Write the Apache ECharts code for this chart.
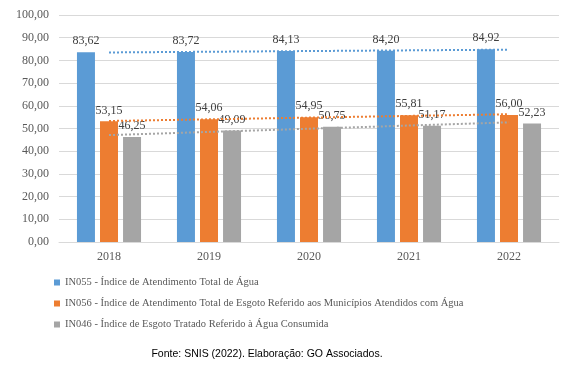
<!DOCTYPE html>
<html>
<head>
<meta charset="utf-8">
<script src="https://cdn.jsdelivr.net/npm/echarts@6/dist/echarts.min.js"></script>
<style>
  html, body { margin: 0; padding: 0; background: #fff; }
  #chart { width: 579px; height: 377px; }
</style>
</head>
<body>
<div id="chart"></div>
<script>
// anos
var anos = ['2018', '2019', '2020', '2021', '2022'];
var nomes = [
  'IN055 - Índice de Atendimento Total de Água',
  'IN056 - Índice de Atendimento Total de Esgoto Referido aos Municípios Atendidos com Água',
  'IN046 - Índice de Esgoto Tratado Referido à Água Consumida'
];
var in055 = [83.62, 83.72, 84.13, 84.20, 84.92];
var in056 = [53.15, 54.06, 54.95, 55.81, 56.00];
var in046 = [46.25, 49.09, 50.75, 51.17, 52.23];
var cores = ['#5B9BD5', '#ED7D31', '#A5A5A5'];

var serif = '"Liberation Serif", "DejaVu Serif", serif';

// linha de tendência linear (mínimos quadrados), como no Excel
function tendencia(vals) {
  var n = vals.length, sx = 0, sy = 0, sxy = 0, sxx = 0;
  vals.forEach(function (v, i) { sx += i; sy += v; sxy += i * v; sxx += i * i; });
  var b = (n * sxy - sx * sy) / (n * sxx - sx * sx);
  var a = (sy - b * sx) / n;
  return vals.map(function (v, i) { return +(a + b * i).toFixed(3); });
}

function fmt(v) { return v.toFixed(2).replace('.', ','); }

var chart = echarts.init(document.getElementById('chart'));

function barra(nome, dados, cor) {
  return {
    name: nome,
    type: 'bar',
    data: dados,
    barWidth: 18,
    barGap: '28%',
    itemStyle: { color: cor },
    label: {
      show: true,
      position: 'top',
      distance: 5,
      color: '#404040',
      fontFamily: serif,
      fontSize: 12,
      formatter: function (p) { return fmt(p.value); }
    }
  };
}

function linha(dados, cor) {
  return {
    type: 'line',
    data: tendencia(dados),
    symbol: 'none',
    silent: true,
    z: 5,
    lineStyle: { color: cor, width: 2, type: 'dotted' }
  };
}

var option = {
  animation: false,
  grid: { left: 59, right: 20, top: 15, bottom: 135 },
  title: {
    text: 'Fonte: SNIS (2022). Elaboração: GO Associados.',
    left: 262,
    top: 344,
    textAlign: 'center',
    textStyle: {
      fontFamily: '"Liberation Sans", Arial, sans-serif',
      fontWeight: 'normal',
      fontSize: 10.5,
      color: '#000'
    }
  },
  legend: {
    orient: 'vertical',
    left: 54,
    top: 277,
    padding: 0,
    itemWidth: 6,
    itemHeight: 6,
    itemGap: 10,
    icon: 'rect',
    data: nomes,
    textStyle: { fontFamily: serif, fontSize: 10.5, color: '#595959' }
  },
  xAxis: {
    type: 'category',
    data: anos,
    axisTick: { show: false },
    axisLine: { lineStyle: { color: '#D9D9D9', width: 1 } },
    axisLabel: { color: '#595959', fontFamily: serif, fontSize: 12, margin: 9 }
  },
  yAxis: {
    type: 'value',
    min: 0,
    max: 100,
    interval: 10,
    axisLine: { show: false },
    axisTick: { show: false },
    splitLine: { lineStyle: { color: '#D9D9D9', width: 1 } },
    axisLabel: {
      color: '#595959',
      fontFamily: serif,
      fontSize: 12,
      margin: 10,
      formatter: function (v) { return fmt(v); }
    }
  },
  series: [
    barra(nomes[0], in055, cores[0]),
    barra(nomes[1], in056, cores[1]),
    barra(nomes[2], in046, cores[2]),
    linha(in055, cores[0]),
    linha(in056, cores[1]),
    linha(in046, cores[2])
  ]
};

chart.setOption(option);
</script>
</body>
</html>
